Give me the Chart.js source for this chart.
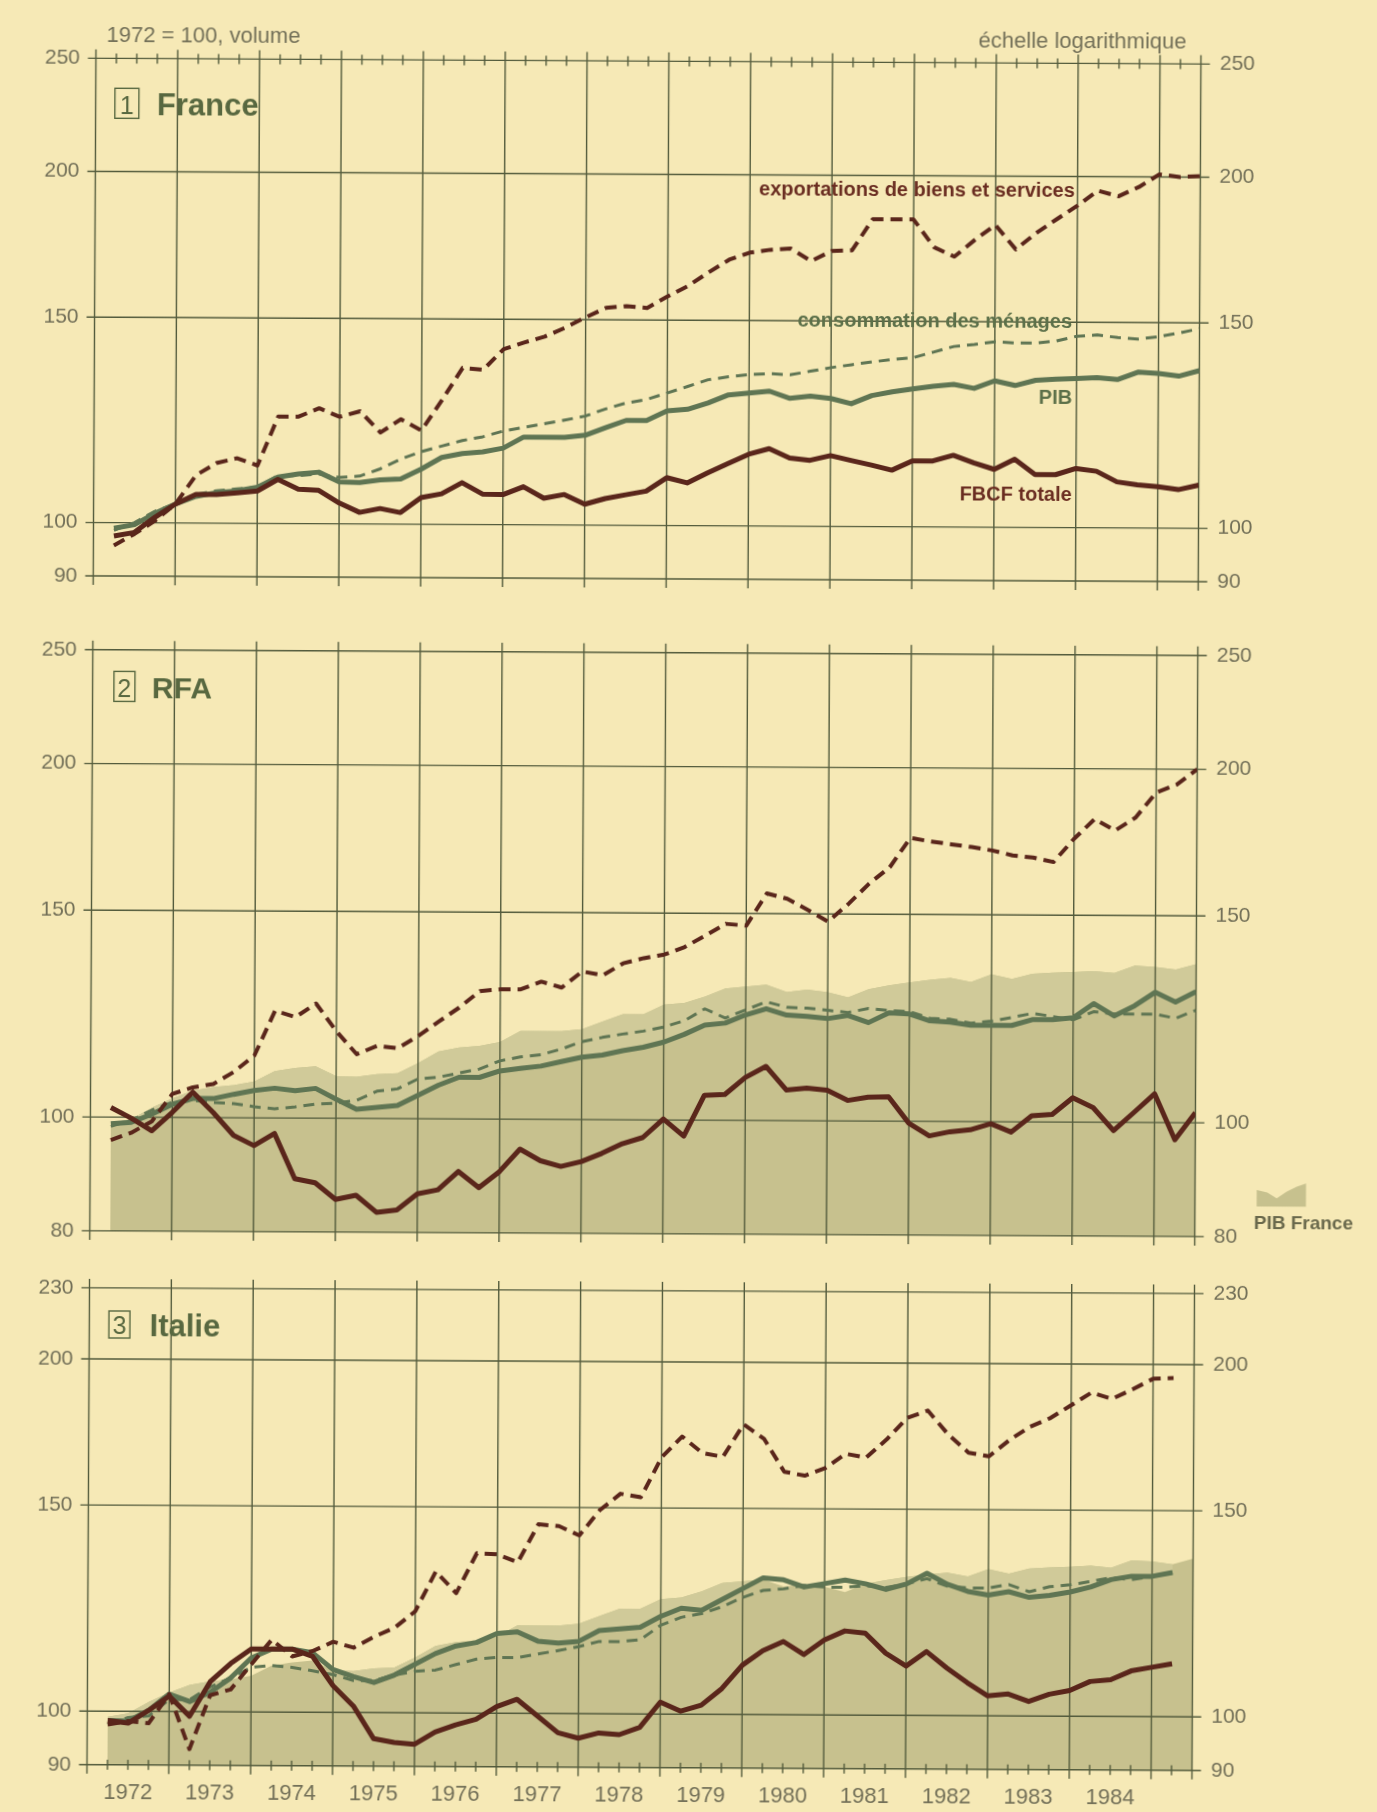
<!DOCTYPE html>
<html lang="fr">
<head>
<meta charset="utf-8">
<title>Demande intérieure et exportations — France, RFA, Italie</title>
<script src="https://cdn.jsdelivr.net/npm/chart.js@4.4.1/dist/chart.umd.min.js"></script>
<style>
    html, body { margin: 0; padding: 0; background: #f6e9b6; overflow: hidden; }
    #page {
        position: relative;
        width: 1377px;
        height: 1812px;
        /* the printed sheet sits slightly askew */
        transform: rotate(0.3deg);
        transform-origin: 688.5px 906px;
    }
    #page canvas { position: absolute; left: 0; }
</style>
</head>
<body>
<div id="page">
    <canvas id="france" width="1377" height="640" style="top:0px"></canvas>
    <canvas id="rfa" width="1377" height="660" style="top:600px"></canvas>
    <canvas id="italie" width="1377" height="562" style="top:1250px"></canvas>
</div>
<script>
// Quarterly indices, 1972 = 100, volume. First value = 1st quarter 1972.
const years = [1972, 1973, 1974, 1975, 1976, 1977, 1978, 1979, 1980, 1981, 1982, 1983, 1984];

const pibFrance = [98.9, 99.6, 101.9, 103.8, 105.4, 106.2, 106.6, 107.4, 109.6, 110.3,
    110.7, 108.6, 108.5, 109.1, 109.3, 111.5, 114.1, 115.0, 115.4, 116.3,
    118.9, 118.9, 118.9, 119.4, 121.2, 123.0, 123.0, 125.4, 125.8, 127.4,
    129.5, 130.0, 130.5, 128.7, 129.3, 128.7, 127.4, 129.5, 130.5, 131.3,
    132.0, 132.5, 131.5, 133.5, 132.3, 133.7, 134.0, 134.2, 134.5, 134.0,
    136.0, 135.7, 135.0, 136.5];
const consoFrance = [98.5, 100.0, 102.3, 103.8, 105.8, 106.6, 107.0, 107.4, 109.9, 109.9,
    110.3, 109.6, 109.9, 111.5, 113.7, 115.4, 116.7, 118.0, 118.9, 120.3,
    121.2, 122.1, 123.0, 124.0, 125.8, 127.3, 128.2, 129.9, 131.6, 133.4,
    134.2, 134.8, 135.1, 134.8, 135.8, 136.8, 137.6, 138.4, 139.1, 139.6,
    141.2, 142.8, 143.4, 144.2, 143.9, 143.9, 144.5, 145.9, 146.3, 145.6,
    145.2, 145.9, 147.0, 148.3];
const exportFrance = [95.6, 97.8, 100.4, 103.8, 109.9, 112.6, 113.7, 112.1, 123.5, 123.5,
    125.6, 123.5, 124.9, 119.8, 123.0, 120.3, 127.8, 136.2, 135.7, 141.4,
    143.3, 145.0, 147.6, 150.7, 153.6, 154.1, 153.6, 157.2, 160.5, 164.9,
    169.1, 171.5, 172.5, 173.0, 168.8, 172.2, 172.5, 183.4, 183.4, 183.4,
    173.7, 170.5, 176.3, 181.6, 173.1, 178.8, 183.8, 188.8, 194.5, 192.4,
    196.0, 201.0, 200.0, 200.4];
const fbcfFrance = [97.4, 98.1, 101.1, 103.8, 105.8, 105.8, 106.2, 106.6, 109.1, 107.0,
    106.8, 104.2, 102.3, 103.1, 102.3, 105.4, 106.2, 108.6, 106.2, 106.1,
    107.8, 105.4, 106.2, 104.2, 105.4, 106.2, 107.0, 109.9, 108.8, 111.0,
    113.1, 115.2, 116.5, 114.4, 113.9, 115.0, 113.9, 112.9, 111.8, 113.9,
    113.9, 115.2, 113.5, 112.1, 114.4, 111.0, 111.0, 112.4, 111.8, 109.5,
    108.9, 108.5, 107.9, 108.9];

const pibRFA = [98.7, 99.0, 100.6, 102.6, 103.8, 103.8, 104.7, 105.5, 106.0, 105.5,
    106.0, 103.8, 101.8, 102.2, 102.6, 104.7, 106.8, 108.5, 108.5, 109.9,
    110.5, 111.0, 112.0, 113.0, 113.5, 114.5, 115.3, 116.5, 118.3, 120.5,
    121.0, 123.0, 124.5, 123.0, 122.7, 122.2, 123.0, 121.3, 123.7, 123.4,
    121.8, 121.5, 120.8, 120.8, 120.8, 122.2, 122.2, 122.7, 126.2, 123.2,
    125.7, 129.1, 126.7, 129.3];
const consoRFA = [98.2, 99.4, 101.4, 103.0, 103.4, 103.0, 102.8, 102.2, 101.8, 102.2,
    102.8, 103.0, 103.6, 105.5, 106.0, 108.1, 108.5, 109.4, 110.3, 112.1,
    113.0, 113.5, 114.8, 116.5, 117.5, 118.3, 119.0, 120.0, 121.5, 124.4,
    122.2, 124.2, 126.2, 124.9, 124.7, 124.2, 123.7, 124.7, 124.2, 124.0,
    122.4, 122.2, 121.3, 121.8, 122.7, 123.7, 123.0, 122.2, 124.2, 123.7,
    123.7, 123.7, 122.7, 124.7];
const exportRFA = [95.6, 97.0, 99.2, 104.7, 106.1, 106.8, 109.4, 113.0, 123.4, 121.9,
    125.2, 118.6, 113.4, 115.3, 114.8, 117.6, 121.0, 124.4, 128.5, 129.0,
    129.0, 131.0, 129.5, 133.7, 132.7, 135.9, 137.3, 138.3, 140.4, 143.6,
    147.0, 146.5, 156.1, 154.5, 151.2, 147.8, 153.1, 159.3, 164.5, 174.3,
    173.1, 172.2, 171.3, 170.2, 168.6, 167.9, 166.5, 174.3, 181.2, 177.2,
    181.8, 191.0, 194.0, 200.0];
const fbcfRFA = [101.9, 99.8, 97.4, 101.0, 105.1, 101.0, 96.6, 94.7, 97.0, 88.8,
    88.1, 85.3, 86.0, 83.2, 83.6, 86.3, 87.0, 90.2, 87.4, 90.2,
    94.3, 92.2, 91.2, 92.1, 93.6, 95.4, 96.6, 100.2, 96.9, 105.0,
    105.2, 108.8, 111.2, 106.2, 106.6, 106.2, 104.1, 104.8, 104.9, 99.6,
    97.2, 98.0, 98.4, 99.6, 98.0, 101.2, 101.5, 104.9, 102.9, 98.4,
    102.0, 105.8, 96.7, 102.0];

const pibItalie = [98.2, 98.1, 100.2, 103.5, 102.0, 103.9, 106.9, 111.2, 113.2, 113.2,
    112.4, 108.8, 107.3, 106.1, 107.7, 110.0, 112.4, 114.1, 114.9, 117.0,
    117.4, 115.3, 114.9, 115.3, 117.8, 118.2, 118.6, 121.2, 123.2, 122.7,
    125.4, 128.1, 130.9, 130.4, 128.6, 129.5, 130.4, 129.5, 128.1, 129.5,
    132.3, 129.5, 127.7, 126.8, 127.7, 126.3, 126.8, 127.7, 129.0, 130.9,
    131.8, 131.8, 132.8];
const consoItalie = [97.4, 98.8, 99.1, 102.4, 102.4, 105.0, 106.9, 109.2, 109.6, 109.2,
    108.5, 107.7, 106.5, 106.5, 107.7, 108.5, 108.8, 110.0, 111.2, 111.6,
    111.6, 112.4, 113.2, 114.1, 115.3, 115.3, 115.7, 119.1, 121.0, 121.9,
    123.6, 125.9, 127.7, 128.1, 129.0, 128.6, 128.6, 129.0, 128.6, 129.5,
    130.9, 129.0, 128.6, 128.6, 129.5, 127.7, 129.0, 129.5, 130.4, 131.4,
    130.9, 131.8, 132.8];
const exportItalie = [97.4, 98.1, 97.7, 103.5, 92.9, 103.3, 104.5, 109.8, 115.3, 111.6,
    112.8, 114.9, 113.6, 116.1, 118.2, 122.1, 132.1, 126.6, 137.0, 136.7,
    134.6, 145.1, 144.6, 142.0, 149.3, 154.2, 153.2, 165.7, 172.7, 167.2,
    166.0, 177.0, 172.1, 161.3, 160.1, 162.5, 167.2, 166.0, 172.1, 179.6,
    182.2, 173.9, 167.8, 166.6, 172.1, 176.7, 179.8, 184.4, 189.1, 186.8,
    190.4, 194.4, 194.7];
const fbcfItalie = [98.2, 97.7, 100.2, 103.1, 99.1, 106.1, 110.0, 113.2, 113.2, 113.2,
    111.6, 105.4, 101.3, 95.0, 94.3, 94.0, 96.3, 97.7, 98.8, 101.3,
    102.8, 99.5, 96.3, 95.3, 96.3, 96.0, 97.4, 102.4, 100.6, 101.8,
    105.2, 110.2, 113.4, 115.5, 112.6, 115.9, 118.0, 117.5, 113.0, 110.2,
    113.4, 109.8, 106.7, 104.0, 104.4, 102.9, 104.4, 105.2, 107.1, 107.5,
    109.4, 110.2, 111.0];

const ticksFrance = [90, 100, 150, 200, 250];
const ticksRFA = [80, 100, 150, 200, 250];
const ticksItalie = [90, 100, 150, 200, 230];

const FONT = '"Liberation Sans", Arial, sans-serif';
const GRID = '#535b3c';
const INK = '#737058';
const TITLE = '#586840';
const BROWN = '#5a261b';
const BROWN_TEXT = '#6a2d21';
const GREEN = '#5f7553';
const GREEN_TEXT = '#5c7049';
const AREA = '#c7c18e';        // France GDP, below the country's own GDP
const AREA_GAP = '#d0ca99';    // France GDP above the country's own GDP

function font(size, bold) {
    return (bold ? 'bold ' : '') + size + 'px ' + FONT;
}

// quarter n (1 = Q1 1972) sits at x = n on the time axis, 0 = start of 1972
function points(values) {
    return values.map((v, i) => ({ x: i + 1, y: v }));
}

function yearBounds() {
    const b = years.map((yr, i) => i * 4);
    b.push(years.length * 4);   // start of 1985
    b.push(54);                 // right edge, mid 1985
    return b;
}

function drawGrid(chart, p) {
    const { ctx, chartArea: a, scales: { x, y } } = chart;
    ctx.save();
    ctx.strokeStyle = GRID;
    ctx.lineWidth = 1.4;
    ctx.beginPath();
    p.ticks.forEach(v => {
        const py = y.getPixelForValue(v);
        ctx.moveTo(a.left - 8, py);
        ctx.lineTo(a.right + 9, py);
    });
    yearBounds().forEach(q => {
        const px = x.getPixelForValue(q);
        ctx.moveTo(px, a.top - 9);
        ctx.lineTo(px, a.bottom + 9);
    });
    if (p.quarterTicks) {
        const py = p.quarterTicks === 'top' ? a.top : a.bottom;
        for (let q = 1; q < 54; q++) {
            if (q % 4 === 0) continue;
            const px = x.getPixelForValue(q);
            ctx.moveTo(px, py - 5);
            ctx.lineTo(px, py + 5);
        }
    }
    ctx.stroke();
    ctx.restore();
}

function drawLabels(chart, p) {
    const { ctx, chartArea: a, scales: { x, y } } = chart;
    ctx.save();
    ctx.fillStyle = INK;
    ctx.font = font(21);
    ctx.textBaseline = 'middle';
    p.ticks.forEach(v => {
        const py = y.getPixelForValue(v);
        ctx.textAlign = 'right';
        ctx.fillText(String(v), a.left - 16, py);
        ctx.textAlign = 'left';
        ctx.fillText(String(v), a.right + 19, py);
    });

    if (p.yearLabels) {
        ctx.font = font(22);
        ctx.textAlign = 'center';
        years.forEach((yr, i) => {
            ctx.fillText(String(yr), x.getPixelForValue(i * 4 + 2), a.bottom + 28.5);
        });
    }

    // numbered panel title
    const t = p.title;
    const [bx, by, bw, bh] = t.box;
    ctx.strokeStyle = TITLE;
    ctx.lineWidth = 1.4;
    ctx.strokeRect(bx, by, bw, bh);
    ctx.fillStyle = TITLE;
    ctx.textBaseline = 'alphabetic';
    ctx.textAlign = 'center';
    ctx.font = font(25);
    ctx.fillText(t.num, bx + bw / 2, by + bh - 4);
    ctx.textAlign = 'left';
    ctx.font = font(t.size, true);
    ctx.fillText(t.name, t.x, t.base);

    ctx.textBaseline = 'middle';
    p.notes.forEach(n => {
        ctx.fillStyle = n.color;
        ctx.font = font(n.size, n.bold);
        ctx.textAlign = n.align;
        ctx.fillText(n.text, n.x, n.y);
    });

    if (p.legend) {
        const l = p.legend;
        ctx.fillStyle = AREA;
        ctx.beginPath();
        l.swatch.forEach(([sx, sy], i) => i ? ctx.lineTo(sx, sy) : ctx.moveTo(sx, sy));
        ctx.closePath();
        ctx.fill();
        ctx.fillStyle = '#6a694c';
        ctx.font = font(19, true);
        ctx.textAlign = 'left';
        ctx.fillText(l.text, l.x, l.y);
    }
    ctx.restore();
}

function decor(p) {
    return {
        id: 'decor',
        beforeDatasetsDraw(chart) {
            if (!p.area) drawGrid(chart, p);
        },
        afterDatasetDraw(chart, args) {
            // grid goes over the shaded France GDP, under the curves
            if (p.area && args.index === 5) drawGrid(chart, p);
        },
        afterDraw(chart) {
            drawLabels(chart, p);
        }
    };
}

function panel(p) {
    const datasets = [
        { label: 'FBCF totale', data: points(p.fbcf), borderColor: BROWN, borderWidth: 5, order: 1 },
        { label: 'exportations de biens et services', data: points(p.exports), borderColor: BROWN,
          borderWidth: 4, borderDash: [12, 7], order: 2 },
        { label: 'PIB', data: points(p.pib), borderColor: GREEN, borderWidth: 5, order: 3 },
        { label: 'consommation des ménages', data: points(p.conso), borderColor: GREEN,
          borderWidth: 3, borderDash: [11, 7], order: 4 }
    ];
    if (p.area) {
        datasets.push({ label: 'PIB France', data: points(pibFrance), borderColor: 'rgba(0,0,0,0)',
            borderWidth: 0, backgroundColor: AREA, fill: 'start', order: 11 });
        // lighter band where France GDP runs above the country's GDP (dataset 2)
        datasets.push({ label: 'PIB France (écart)', data: points(pibFrance.slice(0, p.pib.length)),
            borderColor: 'rgba(0,0,0,0)', borderWidth: 0, order: 10,
            fill: { target: 2, above: AREA_GAP, below: 'rgba(0,0,0,0)' } });
    }

    return new Chart(document.getElementById(p.id), {
        type: 'line',
        data: { datasets },
        options: {
            responsive: false,
            animation: false,
            events: [],
            layout: {
                autoPadding: false,
                padding: { left: 91.5, right: 180.5, top: p.top, bottom: p.height - p.bottom }
            },
            scales: {
                x: { type: 'linear', min: 0, max: 54, display: false },
                y: { type: 'logarithmic', min: p.min, max: p.max, display: false }
            },
            elements: {
                point: { radius: 0, hoverRadius: 0 },
                line: { tension: 0, borderJoinStyle: 'round', borderCapStyle: 'butt', fill: false }
            },
            plugins: {
                legend: { display: false },
                tooltip: { enabled: false }
            }
        },
        plugins: [decor(p)]
    });
}

panel({
    id: 'france', height: 640, top: 61.4, bottom: 579, min: 90, max: 250, ticks: ticksFrance,
    pib: pibFrance, conso: consoFrance, exports: exportFrance, fbcf: fbcfFrance,
    area: false, quarterTicks: 'top', yearLabels: false,
    title: { num: '1', name: 'France', box: [110.7, 91.3, 24, 30], x: 152.8, base: 118, size: 31 },
    notes: [
        { text: '1972 = 100, volume', x: 102, y: 38.5, align: 'left', size: 22, color: INK },
        { text: 'échelle logarithmique', x: 1182, y: 39.5, align: 'right', size: 22, color: INK },
        { text: 'exportations de biens et services', x: 1071, y: 189, align: 'right', size: 20, bold: true, color: BROWN_TEXT },
        { text: 'consommation des ménages', x: 1069, y: 320.6, align: 'right', size: 20, bold: true, color: GREEN_TEXT },
        { text: 'PIB', x: 1069.4, y: 396, align: 'right', size: 20, bold: true, color: GREEN_TEXT },
        { text: 'FBCF totale', x: 1069.6, y: 493.6, align: 'right', size: 20, bold: true, color: BROWN_TEXT }
    ]
});

panel({
    id: 'rfa', height: 660, top: 52.8, bottom: 633.9, min: 80, max: 250, ticks: ticksRFA,
    pib: pibRFA, conso: consoRFA, exports: exportRFA, fbcf: fbcfRFA,
    area: true, quarterTicks: null, yearLabels: false,
    title: { num: '2', name: 'RFA', box: [112.8, 74.4, 21, 30], x: 150.8, base: 101, size: 30 },
    notes: [],
    legend: {
        text: 'PIB France', x: 1255.5, y: 621,
        swatch: [[1258.2, 586.9], [1268.8, 589.6], [1278.2, 595.2], [1288.2, 588.5],
                 [1298.2, 583.5], [1307.5, 580.2], [1307.5, 603.6], [1258.2, 603.6]]
    }
});

panel({
    id: 'italie', height: 562, top: 40.9, bottom: 517.8, min: 90, max: 230, ticks: ticksItalie,
    pib: pibItalie, conso: consoItalie, exports: exportItalie, fbcf: fbcfItalie,
    area: true, quarterTicks: 'bottom', yearLabels: true,
    title: { num: '3', name: 'Italie', box: [111.1, 64, 21, 27], x: 151.8, base: 88.6, size: 31 },
    notes: []
});
</script>
</body>
</html>
